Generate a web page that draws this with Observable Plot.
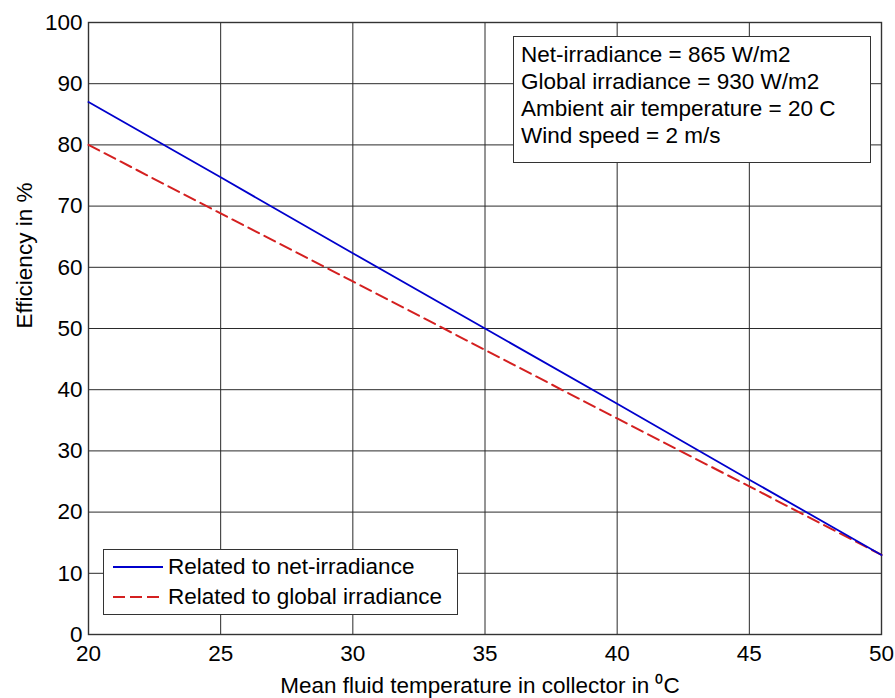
<!DOCTYPE html>
<html>
<head>
<meta charset="utf-8">
<script src="https://cdn.jsdelivr.net/npm/d3@7"></script>
<script src="https://cdn.jsdelivr.net/npm/@observablehq/plot@0.6"></script>
<style>
  html, body { margin: 0; padding: 0; background: #fff; }
  #wrap { position: relative; width: 895px; height: 698px; font-family: "Liberation Sans", Arial, Helvetica, sans-serif; color: #000; }
  .box { position: absolute; background: #fff; border: 1.5px solid #333; box-sizing: border-box; font-size: 22.5px; white-space: nowrap; }
  #note { left: 513px; top: 36px; width: 358px; height: 127px; padding: 4px 0 0 7px; line-height: 27px; }
  #legend { left: 103px; top: 549px; width: 355px; height: 66px; padding: 2px 0 0 9px; line-height: 30px; }
  .row { display: flex; align-items: center; height: 30px; }
  .row svg { margin-right: 5px; }
</style>
</head>
<body>
<div id="wrap"></div>
<script>
// Data
const temperature = [20, 25, 30, 35, 40, 45, 50];
const effNet = [87, 74.7, 62.3, 50, 37.7, 25.3, 13];
const effGlobal = [80, 68.8, 57.7, 46.5, 35.3, 24.2, 13];
const xTicks = [20, 25, 30, 35, 40, 45, 50];
const yTicks = [0, 10, 20, 30, 40, 50, 60, 70, 80, 90, 100];
const seriesNames = ["Related to net-irradiance", "Related to global irradiance"];
const seriesColors = ["#0000cc", "#d42020"];
const noteLines = ["Net-irradiance = 865 W/m2", "Global irradiance = 930 W/m2", "Ambient air temperature = 20 C", "Wind speed = 2 m/s"];
const xLabel = "Mean fluid temperature in collector in \u2070C";
const yLabel = "Efficiency in %";

const netData = temperature.map((t, i) => ({t, e: effNet[i]}));
const globalData = temperature.map((t, i) => ({t, e: effGlobal[i]}));

const chart = Plot.plot({
  width: 895,
  height: 698,
  marginLeft: 88,
  marginRight: 14,
  marginTop: 22,
  marginBottom: 64,
  x: {domain: [20, 50]},
  y: {domain: [0, 100]},
  style: {fontFamily: '"Liberation Sans", Arial, Helvetica, sans-serif', fontSize: "22.5px", color: "#000", background: "#fff"},
  marks: [
    Plot.gridX(xTicks, {stroke: "#2a2a2a", strokeOpacity: 1, strokeWidth: 1}),
    Plot.gridY(yTicks, {stroke: "#2a2a2a", strokeOpacity: 1, strokeWidth: 1}),
    Plot.frame({stroke: "#333", strokeWidth: 1.4}),
    Plot.axisX(xTicks, {tickSize: 0, tickPadding: 11, label: null, fontSize: 22.5, fill: "#000"}),
    Plot.axisY(yTicks, {tickSize: 0, tickPadding: 6, label: null, fontSize: 22.5, fill: "#000"}),
    Plot.line(globalData, {x: "t", y: "e", stroke: seriesColors[1], strokeWidth: 2, strokeDasharray: "12,6"}),
    Plot.line(netData, {x: "t", y: "e", stroke: seriesColors[0], strokeWidth: 1.8}),
    Plot.text([xLabel], {frameAnchor: "bottom", dy: 51, dx: -5, lineAnchor: "middle", fontSize: 22.5, fill: "#000"}),
    Plot.text([yLabel], {frameAnchor: "left", dx: -64, rotate: -90, lineAnchor: "middle", fontSize: 22.5, fill: "#000"})
  ]
});

const wrap = document.getElementById("wrap");
wrap.appendChild(chart);

const note = document.createElement("div");
note.className = "box";
note.id = "note";
note.innerHTML = noteLines.map(s => `<div>${s}</div>`).join("");
wrap.appendChild(note);

const legend = document.createElement("div");
legend.className = "box";
legend.id = "legend";
legend.innerHTML = seriesNames.map((name, i) => `
  <div class="row">
    <svg width="50" height="6"><line x1="0" x2="50" y1="3" y2="3" stroke="${seriesColors[i]}" stroke-width="2" ${i ? 'stroke-dasharray="12,5"' : ''}/></svg>
    <span>${name}</span>
  </div>`).join("");
wrap.appendChild(legend);
</script>
</body>
</html>
